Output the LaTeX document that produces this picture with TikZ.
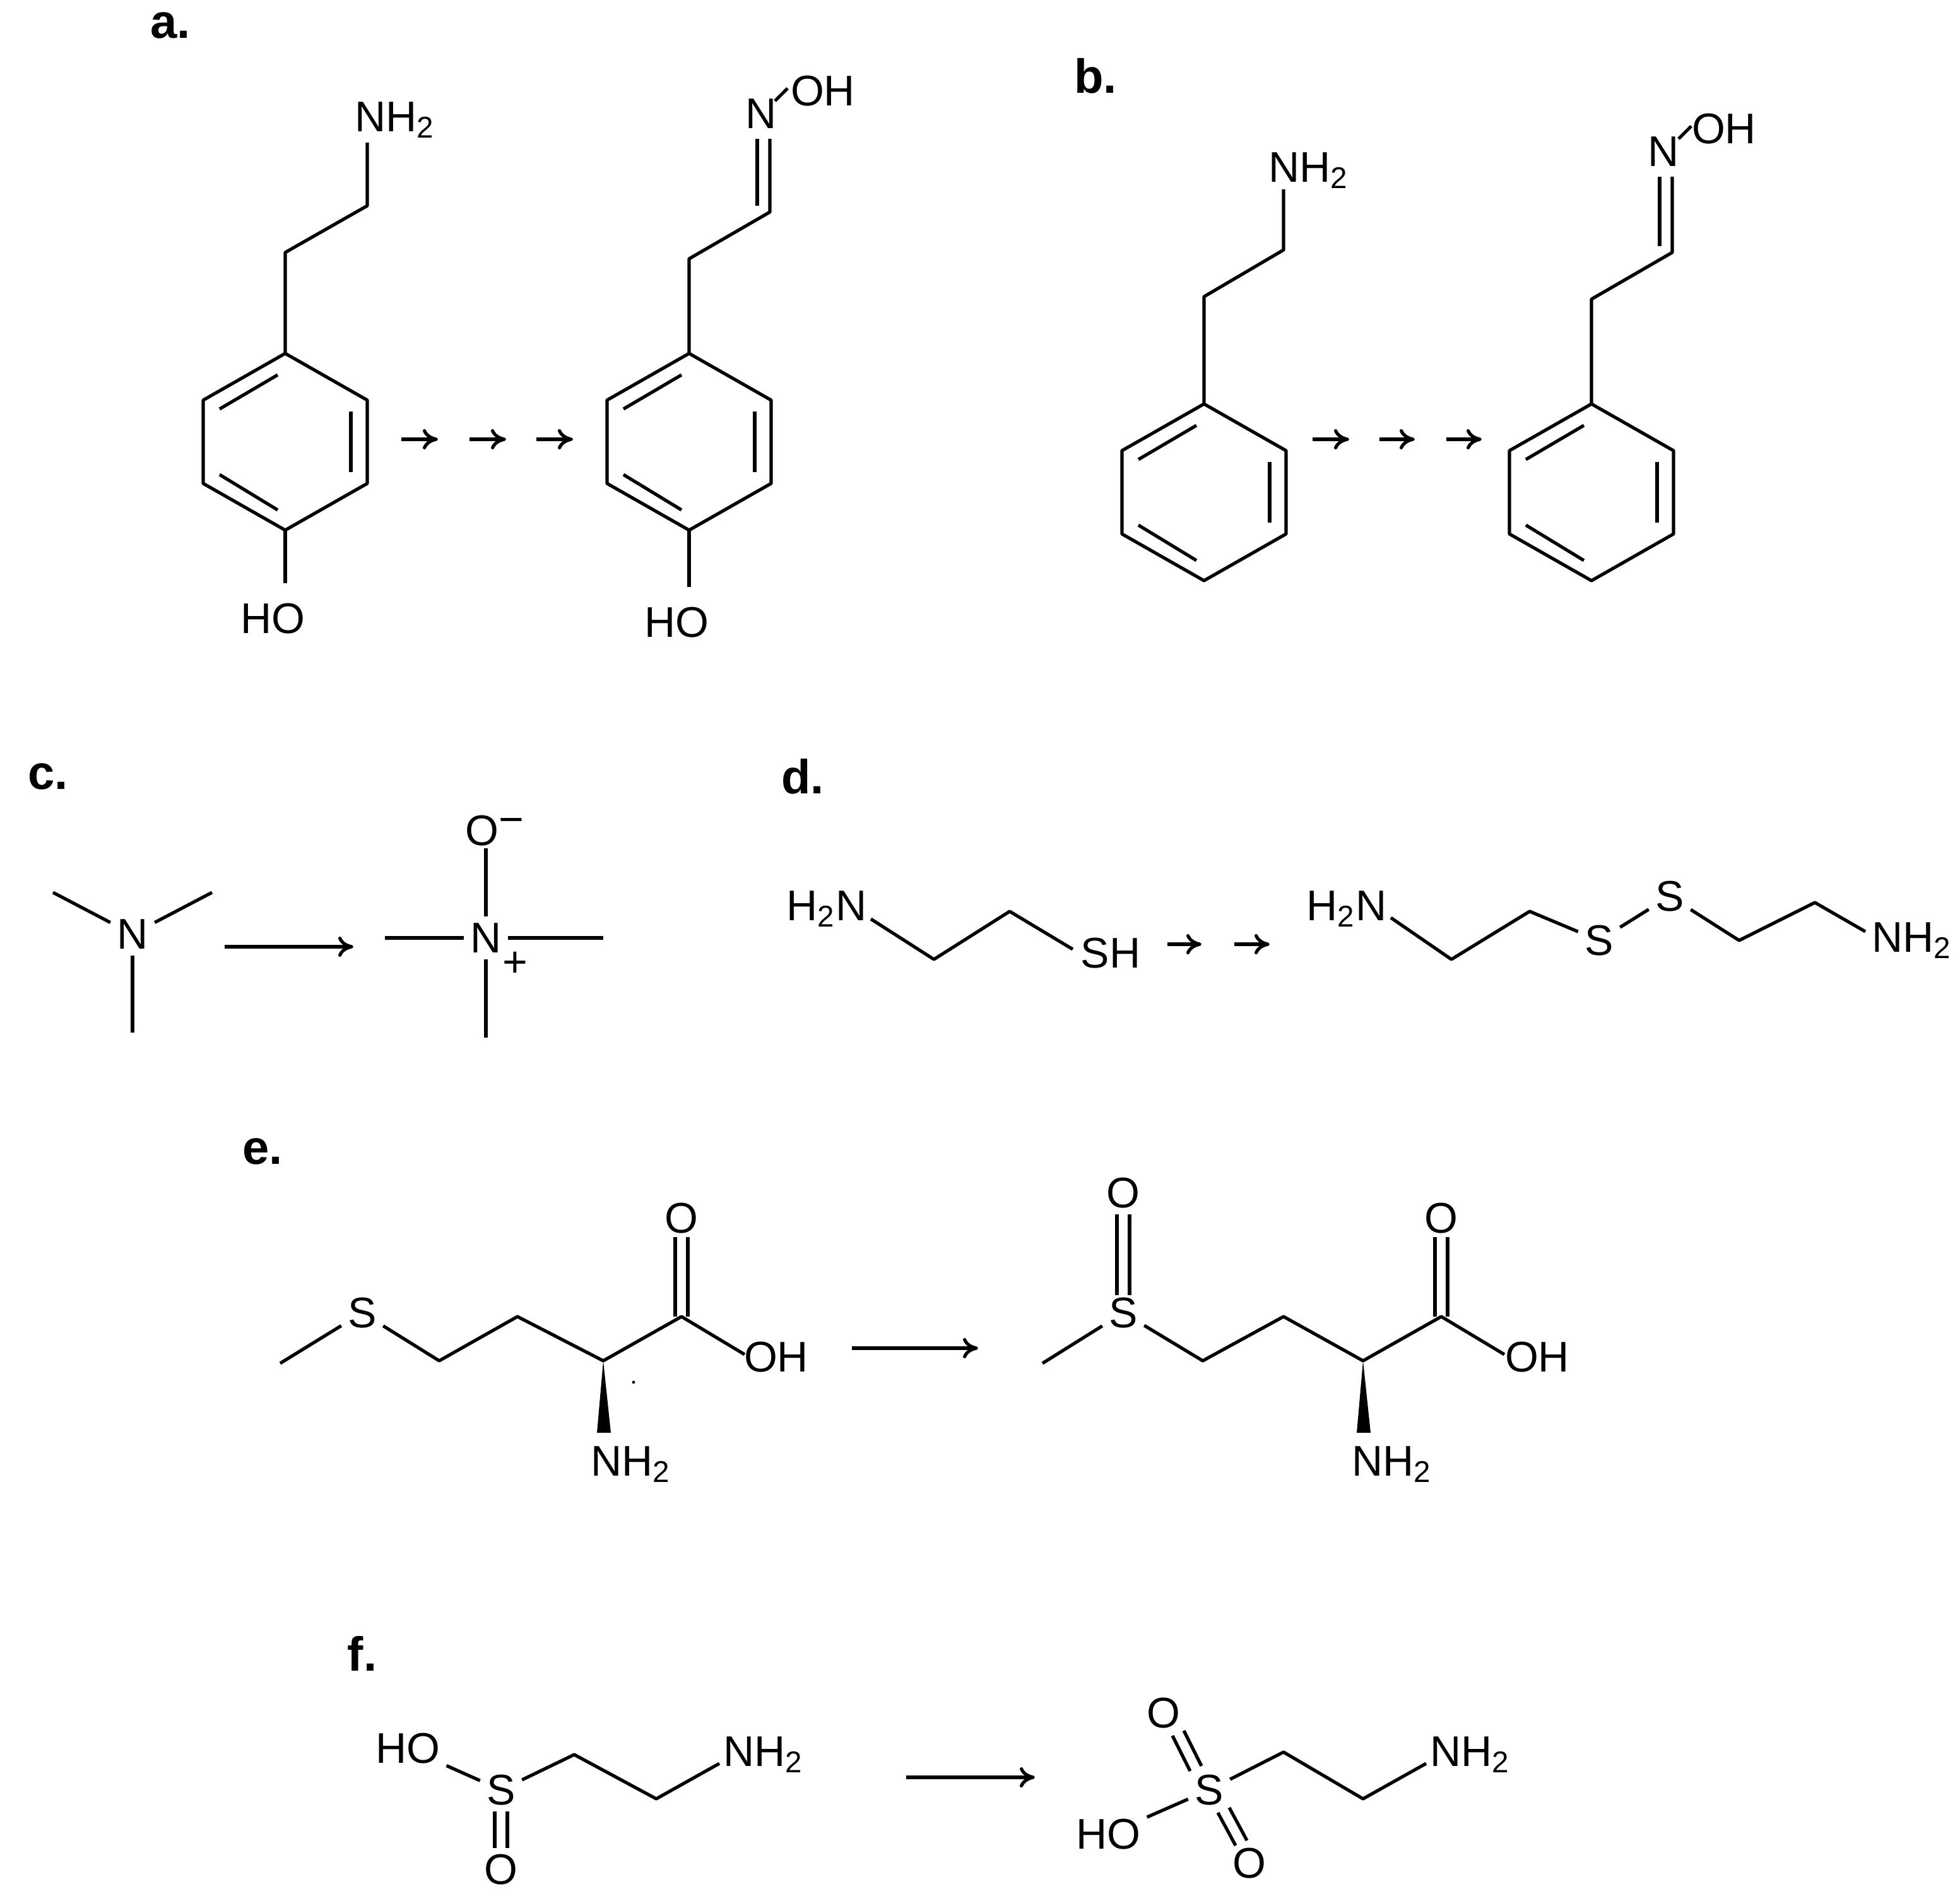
\documentclass[tikz,border=0pt]{standalone}
\usepackage{fontspec}
\setmainfont{Liberation Sans}
\usetikzlibrary{arrows.meta}
\begin{document}
\begin{tikzpicture}[x=0.5pt,y=-0.5pt,line width=1.3pt,line join=round,
  lab/.style={font=\fontsize{17}{17}\selectfont,inner sep=2pt},
  ttl/.style={font=\bfseries\fontsize{19}{19}\selectfont},
  rx/.style={-{To[length=6pt,width=8pt]}}]
\useasboundingbox (0,0) rectangle (1553,1502);
\newcommand{\two}{\textsubscript{2}}
% labels
\node[ttl] (la) at (135,20) {a.};
\node[ttl] (lb) at (868,60) {b.};
\node[ttl] (lc) at (38,615) {c.};
\node[ttl] (ld) at (636,615) {d.};
\node[ttl] (le) at (208,912) {e.};
\node[ttl] (lf) at (287,1310) {f.};
% ring macro
\newcommand{\ring}[2]{%
 \draw (#1,#2-66)--(#1+65,#2-29)--(#1+65,#2+37)--(#1,#2+74)--(#1-65,#2+37)--(#1-65,#2-29)--cycle;
 \draw (#1-52,#2-22)--(#1-6,#2-49);
 \draw (#1+52,#2-20)--(#1+52,#2+28);
 \draw (#1-52,#2+30)--(#1-6,#2+58);}
% a
\ring{226}{346}
\draw (226,280)--(226,200)--(291,163)--(291,113);
\node[lab] (a1n) at (313,95) {NH\two};
\draw (226,420)--(226,462);
\node[lab] (a1o) at (216,490) {HO};
\draw[rx] (318,348)--(347,348);
\draw[rx] (372,348)--(401,348);
\draw[rx] (425,348)--(454,348);
\ring{546}{346}
\draw (546,280)--(546,205)--(610,168)--(610,110);
\draw (600,163)--(600,110);
\node[lab] (a2n) at (603,90) {N};
\draw (614,80)--(624,70);
\node[lab] (a2o) at (652,72) {OH};
\draw (546,420)--(546,465);
\node[lab] (a2h) at (536,493) {HO};
% b
\ring{954}{386}
\draw (954,320)--(954,235)--(1017,198)--(1017,150);
\node[lab] (b1n) at (1037,135) {NH\two};
\draw[rx] (1040,348)--(1069,348);
\draw[rx] (1093,348)--(1121,348);
\draw[rx] (1146,348)--(1174,348);
\ring{1261}{386}
\draw (1261,320)--(1261,237)--(1325,200)--(1325,140);
\draw (1315,195)--(1315,140);
\node[lab] (b2n) at (1318,120) {N};
\draw (1330,110)--(1340,100);
\node[lab] (b2o) at (1366,102) {OH};
% c
\node[lab] (cn) at (105,740) {N};
\draw (cn)--(42,707); \draw (cn)--(168,707); \draw (cn)--(105,818);
\draw[rx] (178,750)--(280,750);
\node[lab] (cn2) at (385,743) {N};
\draw (cn2.west)--(305,743); \draw (cn2.east)--(478,743);
\draw (cn2.south)--(385,822);
\node[lab] (co) at (392,658) {O\raisebox{0.5ex}{\textminus}};
\draw (cn2.north)--(385,672);
\node[lab] (cp) at (408,764) {+};
% d
\node[lab] (d1) at (655,720) {H\two N};
\draw (690,728)--(740,760)--(800,722)--(850,752);
\node[lab] (d2) at (880,755) {SH};
\draw[rx] (925,748)--(952,748);
\draw[rx] (978,748)--(1006,748);
\node[lab] (d3) at (1067,720) {H\two N};
\node[lab] (d4) at (1267,745) {S};
\node[lab] (d5) at (1323,710) {S};
\node[lab] (d6) at (1515,745) {NH\two};
\draw (1102,727)--(1150,760)--(1212,722)--(d4);
\draw (d4)--(d5);
\draw (d5)--(1378,745)--(1438,715)--(1478,738);
% e
\node[lab] (es) at (287,1040) {S};
\draw (222,1080)--(es); \draw (es)--(348,1078)--(410,1043)--(478,1078)--(540,1043)--(590,1073);
\draw (535,1043)--(535,980); \draw (545,1043)--(545,980);
\node[lab] (eo) at (540,965) {O};
\node[lab] (eoh) at (615,1075) {OH};
\fill (478,1078)--(473,1135)--(484,1135)--cycle;
\node[lab] (enh) at (500,1160) {NH\two};
\fill (502,1095) circle (1.2);
\draw[rx] (675,1068)--(775,1068);
\node[lab] (es2) at (890,1040) {S};
\draw (826,1080)--(es2); \draw (es2)--(953,1078)--(1017,1043)--(1080,1078)--(1142,1043)--(1192,1073);
\draw (885,1026)--(885,962); \draw (895,1026)--(895,962);
\node[lab] (eo2) at (890,945) {O};
\draw (1137,1043)--(1137,980); \draw (1147,1043)--(1147,980);
\node[lab] (eo3) at (1142,965) {O};
\node[lab] (eoh2) at (1218,1075) {OH};
\fill (1080,1078)--(1075,1135)--(1086,1135)--cycle;
\node[lab] (enh2) at (1103,1160) {NH\two};
% f
\node[lab] (fho) at (323,1385) {HO};
\node[lab] (fs) at (397,1418) {S};
\draw (fho)--(fs);
\draw (392,1435)--(392,1464); \draw (402,1435)--(402,1464);
\node[lab] (fo) at (397,1481) {O};
\draw (fs)--(455,1390)--(520,1425)--(570,1397);
\node[lab] (fnh) at (605,1390) {NH\two};
\draw[rx] (718,1408)--(820,1408);
\node[lab] (fs2) at (958,1418) {S};
\draw (943,1403)--(929,1375); \draw (952,1399)--(938,1371);
\node[lab] (fo1) at (922,1357) {O};
\draw (965,1436)--(979,1462); \draw (974,1432)--(988,1458);
\node[lab] (fo2) at (990,1476) {O};
\node[lab] (fho2) at (878,1453) {HO};
\draw (fho2)--(fs2);
\draw (fs2)--(1017,1388)--(1080,1425)--(1130,1397);
\node[lab] (fnh2) at (1165,1390) {NH\two};
\end{tikzpicture}
\end{document}
